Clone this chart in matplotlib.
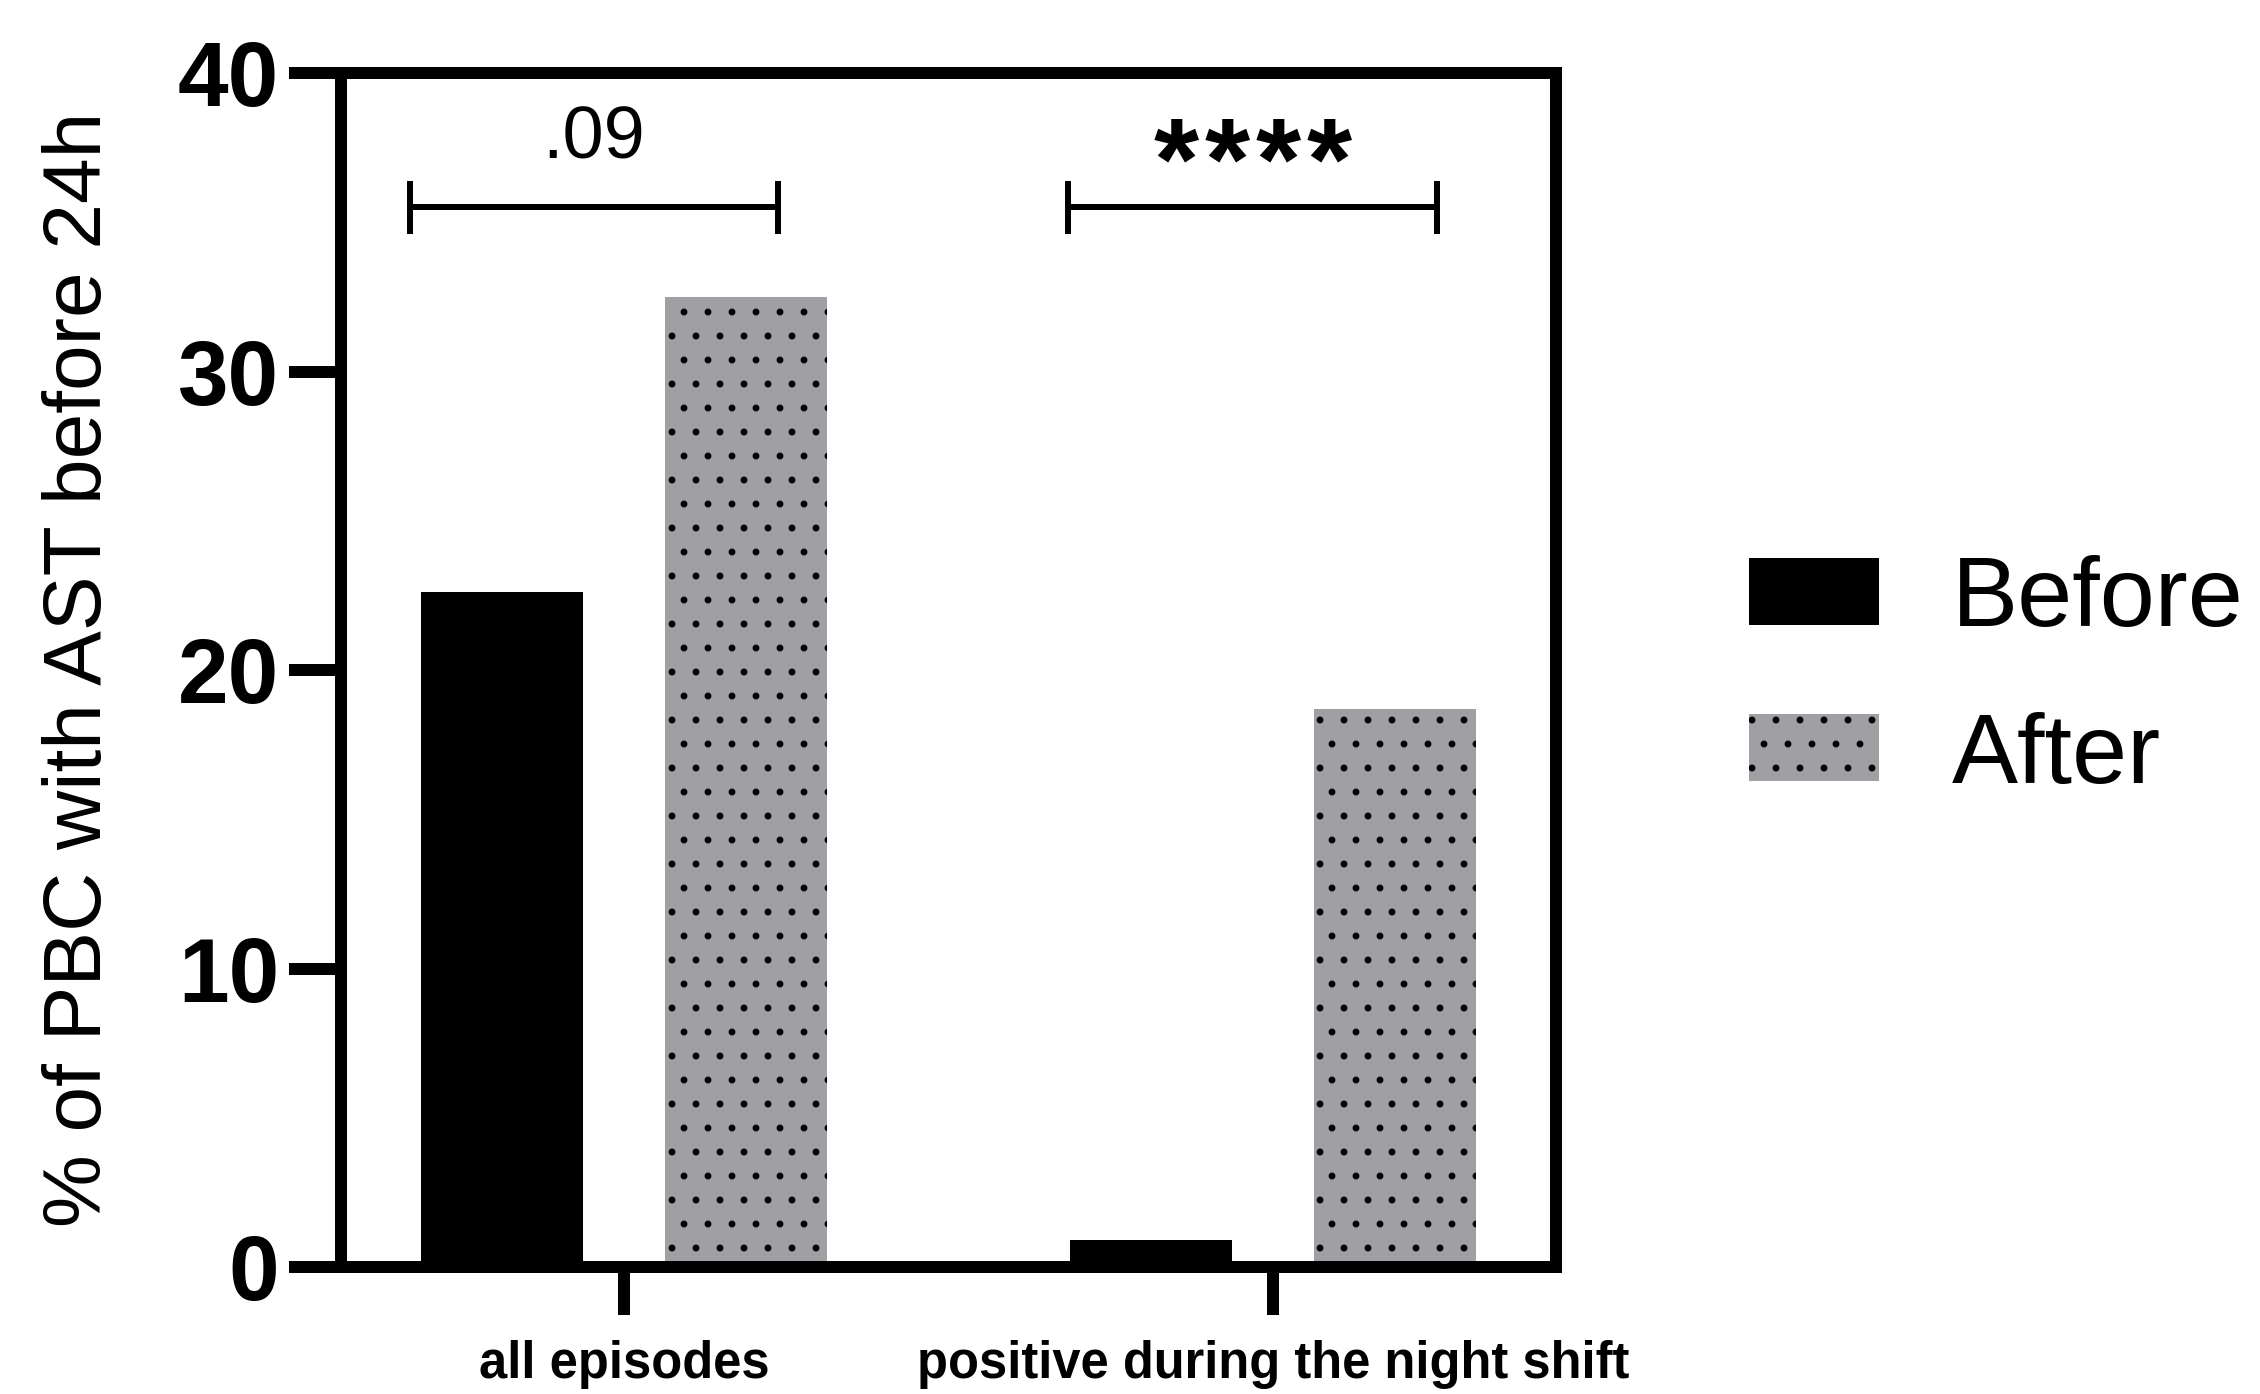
import matplotlib
matplotlib.use("Agg")
import matplotlib.pyplot as plt
import numpy as np

plt.rcParams['font.family'] = ['Liberation Sans', 'DejaVu Sans']
plt.rcParams['hatch.linewidth'] = 1.0

# data
categories = ['all episodes', 'positive during the night shift']
before = [22.6, 0.9]
after = [32.5, 18.7]
series_names = ['Before', 'After']
p_labels = ['.09', '****']
bracket_left = [-0.33, -0.316]
bracket_right = [0.237, 0.253]
bracket_y = 35.5
yticks = [0, 10, 20, 30, 40]

fig = plt.figure(figsize=(2260 / 144, 1394 / 144), dpi=144)
ax = fig.add_axes([0.1509, 0.0911, 0.6885 - 0.1509, 0.9476 - 0.0911])

x = np.arange(len(categories))
w = 0.25
off = 0.1875
ax.bar(x - off, before, w, color='black', edgecolor='black', linewidth=0,
       label=series_names[0])
ax.bar(x + off, after, w, color='#a09fa4', edgecolor='black', linewidth=0,
       hatch='.', label=series_names[1])

# significance brackets
for i in range(len(categories)):
    xl = x[i] + bracket_left[i]
    xr = x[i] + bracket_right[i]
    ax.plot([xl, xr], [bracket_y, bracket_y], color='black', lw=3,
            solid_capstyle='butt', clip_on=False)
    for xe in (xl, xr):
        ax.plot([xe, xe], [bracket_y - 0.9, bracket_y + 0.9], color='black',
                lw=3, solid_capstyle='butt', clip_on=False)
    xc = (xl + xr) / 2
    lab = p_labels[i]
    if lab.startswith('*'):
        # spaced-out asterisks, one glyph at a time
        n = len(lab)
        for k, ch in enumerate(lab):
            ax.annotate(ch, (xc, 35.75), xytext=((k - (n - 1) / 2) * 25.5, 0),
                        textcoords='offset points', ha='center', va='baseline',
                        fontsize=58, fontweight='bold')
    else:
        ax.text(xc, 37.15, lab, ha='center', va='baseline', fontsize=37)

ax.set_xlim(-0.436, 1.436)
ax.set_ylim(0, 40)
ax.set_yticks(yticks)
ax.set_xticks(x)
ax.set_xticklabels(categories, fontsize=25.3, fontweight='bold')
for lab in ax.get_yticklabels():
    lab.set_fontsize(45.5)
    lab.set_fontweight('bold')

ax.tick_params(axis='y', length=26, width=6, pad=5, direction='out')
ax.tick_params(axis='x', length=24, width=6, pad=12.5, direction='out')
for s in ax.spines.values():
    s.set_linewidth(6)

ax.set_ylabel('% of PBC with AST before 24h', fontsize=41)
ax.yaxis.set_label_coords(118 / 2260, 0.5201, transform=fig.transFigure)

fig.legend(loc='center left', bbox_to_anchor=(1749 / 2260, 0.513),
           frameon=False, fontsize=49.5, handlelength=1.31, handleheight=0.66,
           handletextpad=0.74, labelspacing=0.66, borderpad=0, borderaxespad=0)

fig.savefig('out.png', dpi=144)
